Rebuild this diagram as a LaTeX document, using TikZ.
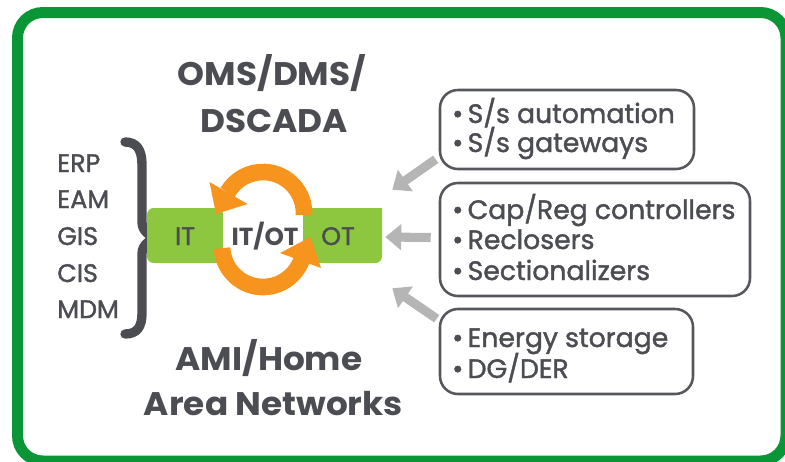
\documentclass[tikz,border=0pt]{standalone}
\usepackage{fontspec}
\setmainfont{Poppins}[UprightFeatures={FakeBold=1.5}]
\usetikzlibrary{arrows.meta,calc}
\definecolor{framegreen}{HTML}{0A9637}
\definecolor{txtgray}{HTML}{4B4D52}
\definecolor{leafgreen}{HTML}{8DC63F}
\definecolor{orng}{HTML}{F7941D}
\definecolor{arrgray}{HTML}{B5B5B5}
\definecolor{boxgray}{HTML}{55575C}
\tikzset{
  lst/.style={anchor=base west, inner sep=0pt, text=txtgray, font=\fontsize{19}{21}\selectfont},
  ttl/.style={anchor=base, inner sep=0pt, text=txtgray, font=\fontsize{24.5}{26}\selectfont\bfseries\addfontfeature{FakeStretch=1.05}},
  itm/.style={anchor=base west, inner sep=0pt, text=txtgray, font=\fontsize{20}{22}\selectfont},
  rbox/.style={draw=boxgray, line width=1.9pt, rounded corners=13.5pt, inner sep=0pt},
  grayarrow/.style={draw=arrgray, line width=6.8pt, -{Triangle[width=19pt,length=12pt]}},
  orangearc/.style={draw=orng, line width=12.5pt},
  barlabel/.style={anchor=base, inner sep=0pt, text=txtgray, font=\fontsize{19}{21}\selectfont}
}
\begin{document}
\begin{tikzpicture}[x=0.75pt,y=-0.75pt]
\useasboundingbox (0,0) rectangle (785,461);
\clip (0,0) rectangle (785,461);
% frame
\draw[framegreen, line width=8.25pt, rounded corners=19pt] (17.5,12.5) rectangle (786,461);

% left list
\node[lst] (erp) at (57,172) {ERP};
\node[lst] (eam) at (57,208) {EAM};
\node[lst] (gis) at (57,245) {GIS};
\node[lst] (cis) at (57,282) {CIS};
\node[lst] (mdm) at (57,318) {MDM};

% brace
\draw[txtgray, line width=7pt, line cap=round]
  (125,142) .. controls (137,142) and (142,150) .. (142,165) -- (142,222)
  .. controls (142,231) and (149,236) .. (157,238)
  .. controls (149,240) and (142,245) .. (142,254) -- (142,313)
  .. controls (142,327) and (137,334) .. (125,334);

% green bar
\fill[leafgreen, rounded corners=5pt] (147,208) -- (223,208) [sharp corners] -- (223,263) [rounded corners=5pt] -- (147,263) -- cycle;
\node[inner sep=0pt] (itbox) at (185,235.5) {};
\fill[leafgreen, rounded corners=5pt] (303,208) [sharp corners] -- (382,208) [rounded corners=5pt] -- (382,263) -- (303,263) [sharp corners] -- cycle;
\node[inner sep=0pt, minimum width=59.25pt, minimum height=41.25pt] (otbox) at (342.5,235.5) {};
\fill[leafgreen] (303,208) rectangle (310,263);

% orange cycle arrows
\draw[orangearc] (263,213) ++(3:41) arc[start angle=3, end angle=-150, radius=41];
\fill[orng] (209.5,182) -- (247.5,204) -- (216,214) -- cycle;
\draw[orangearc] (263,246) ++(177:41) arc[start angle=177, end angle=20, radius=41];
\fill[orng] (321,268) -- (280,253) -- (310.5,237) -- cycle;

% bar labels
\node[barlabel] (it) at (185,245) {IT};
\node[barlabel, font=\fontsize{18.5}{20}\selectfont\bfseries] (itot) at (265,245) {IT/OT};
\node[barlabel] (ot) at (338,245) {OT};

% titles
\node[ttl] (t1) at (272,85) {OMS/DMS/};
\node[ttl] (t2) at (274,132) {DSCADA};
\node[ttl] (t3) at (269,370) {AMI/Home};
\node[ttl] (t4) at (273.5,415) {Area Networks};

% right boxes
\node[rbox, minimum width=190.5pt, minimum height=59.25pt] (b1) at (567,129.5) {};
\node[rbox, minimum width=232.5pt, minimum height=84.75pt] (b2) at (595,239.5) {};
\node[rbox, minimum width=189.75pt, minimum height=63.75pt] (b3) at (566.5,351.5) {};

\node[itm] (b1a) at (452,123) {\textbullet\,S/s automation};
\node[itm] (b1b) at (452,152) {\textbullet\,S/s gateways};
\node[itm] (b2a) at (452,219) {\textbullet\,Cap/Reg controllers};
\node[itm] (b2b) at (452,249) {\textbullet\,Reclosers};
\node[itm] (b2c) at (452,280) {\textbullet\,Sectionalizers};
\node[itm] (b3a) at (452,347) {\textbullet\,Energy storage};
\node[itm] (b3b) at (452,378) {\textbullet\,DG/DER};

% gray arrows
\draw[grayarrow] ($(b1.south west)+(-3,-11)$) -- ($(otbox.north east)+(10,-18)$);
\draw[grayarrow] ($(b2.west)+(-8,-2)$) -- ($(otbox.east)+(3,1.5)$);
\draw[grayarrow] ($(b3.north west)+(-2,11)$) -- ($(otbox.south east)+(10,25)$);
\end{tikzpicture}
\end{document}
